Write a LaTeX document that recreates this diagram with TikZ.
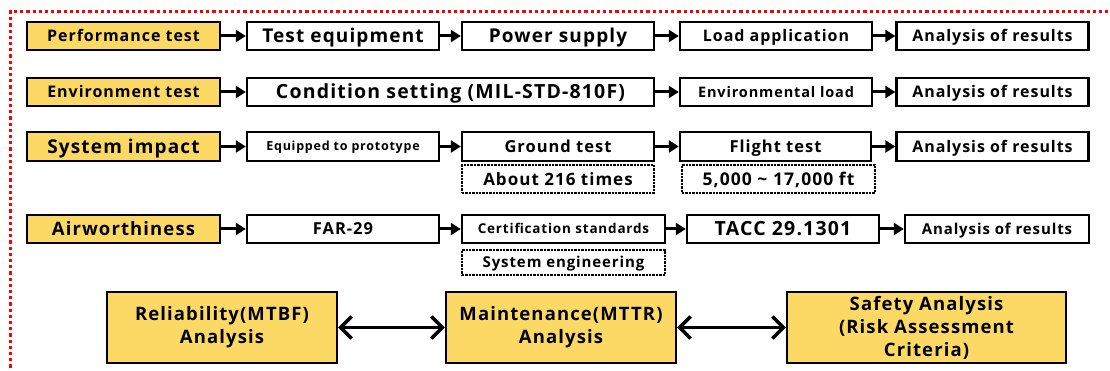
\documentclass[tikz,border=0pt]{standalone}
\usepackage{fontspec}
\setmainfont{Open Sans}[LetterSpace=6]
\usepackage{xcolor}
\usetikzlibrary{arrows.meta}

\definecolor{headyellow}{RGB}{252,216,100}
\definecolor{framered}{RGB}{255,0,0}

\begin{document}
\begin{tikzpicture}[x=1pt,y=-1pt,
    box/.style={draw, line width=2.4pt, inner sep=0pt, minimum height=28pt, minimum width=192pt},
    head/.style={box, fill=headyellow, minimum width=193pt},
    note/.style={box, densely dotted},
    big/.style={draw, line width=2.4pt, inner sep=0pt, fill=headyellow, minimum height=71pt, minimum width=230pt, align=center,
      font=\fontsize{18.5}{23}\selectfont\bfseries},
    fs/.style={font=\fontsize{#1}{#1}\selectfont\bfseries, text height={0.74*#1pt}, text depth={0.03*#1pt}},
    flow/.style={line width=3pt, -{Triangle[length=10pt,width=12pt]}},
    link/.style={line width=3.5pt, {Straight Barb[length=11pt,width=22pt]}-{Straight Barb[length=11pt,width=22pt]}}]
  \useasboundingbox (0,0) rectangle (1110,371);
  \draw[framered, line width=3.2pt, dash pattern=on 3.2pt off 3pt] (10.5,380) |- (1120,11.5);

  % performance test
  \node[head, fs=16] (perf) at (123.5,36) {Performance test};
  \node[box, fs=19] (equip) at (343,36) {Test equipment};
  \node[box, fs=19] (power) at (558,36) {Power supply};
  \node[box, fs=16] (load) at (776,36) {Load application};
  \node[box, fs=16] (res1) at (992.5,36) {Analysis of results};
  \draw[flow] (perf) -- (equip);
  \draw[flow] (equip) -- (power);
  \draw[flow] (power) -- (load);
  \draw[flow] (load) -- (res1);

  % environment test
  \node[head, fs=16] (env) at (123.5,92) {Environment test};
  \node[box, fs=19.5, minimum width=407pt] (cond) at (450.5,92) {Condition setting (MIL-STD-810F)};
  \node[box, fs=14.5] (envload) at (776,92) {Environmental load};
  \node[box, fs=16] (res2) at (992.5,92) {Analysis of results};
  \draw[flow] (env) -- (cond);
  \draw[flow] (cond) -- (envload);
  \draw[flow] (envload) -- (res2);

  % system impact
  \node[head, fs=19, minimum height=29pt] (sys) at (123.5,146.5) {System impact};
  \node[box, fs=12.5, minimum height=29pt] (proto) at (343,146.5) {Equipped to prototype};
  \node[box, fs=16.5, minimum height=29pt] (ground) at (558,146.5) {Ground test};
  \node[box, fs=16.5, minimum height=29pt, minimum width=191pt] (flight) at (775.5,146.5) {Flight test};
  \node[box, fs=16, minimum height=29pt] (res3) at (992.5,146.5) {Analysis of results};
  \node[note, fs=17] (times) at (558,179) {About 216 times};
  \node[note, fs=17.5, minimum width=193pt] (alt) at (778.5,179) {5,000 \textasciitilde{} 17,000 ft};
  \draw[flow] (sys) -- (proto);
  \draw[flow] (proto) -- (ground);
  \draw[flow] (ground) -- (flight);
  \draw[flow] (flight) -- (res3);

  % airworthiness
  \node[head, fs=18.5] (air) at (123.5,229) {Airworthiness};
  \node[box, fs=16.5] (far) at (343,229) {FAR-29};
  \node[box, fs=13.5, minimum width=203pt] (cert) at (563.5,229) {Certification standards};
  \node[box, fs=19.5] (tacc) at (783,229) {TACC 29.1301};
  \node[box, fs=15, minimum width=184pt] (res4) at (997,229) {Analysis of results};
  \node[note, fs=15, minimum width=203pt, minimum height=25pt] (seng) at (563.5,262.5) {System engineering};
  \draw[flow] (air) -- (far);
  \draw[flow] (far) -- (cert);
  \draw[flow] (cert) -- (tacc);
  \draw[flow] (tacc) -- (res4);

  % analyses
  \node[big] (mtbf) at (222,327.5) {Reliability(MTBF)\\Analysis};
  \node[big] (mttr) at (561,327.5) {Maintenance(MTTR)\\Analysis};
  \node[big, minimum width=279pt] (safe) at (926.5,327.5) {Safety Analysis\\(Risk Assessment\\Criteria)};
  \draw[link] (mtbf) -- (mttr);
  \draw[link] (mttr) -- (safe);
\end{tikzpicture}
\end{document}
